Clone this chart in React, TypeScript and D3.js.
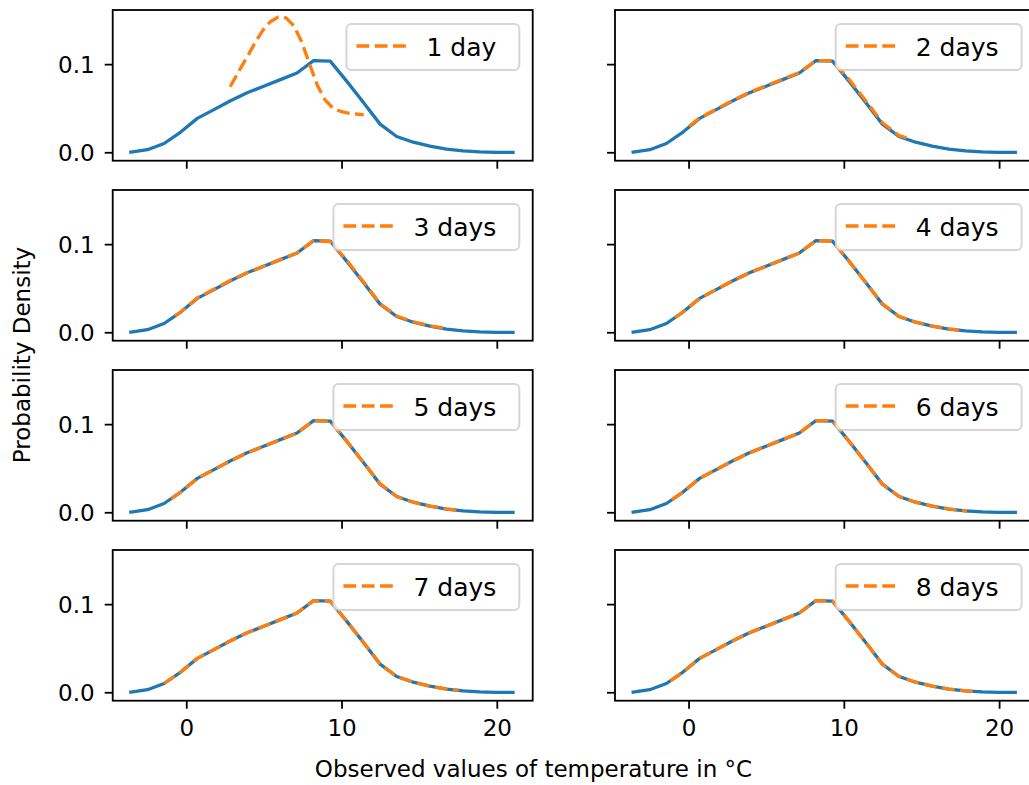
import React from 'react';
import * as d3 from 'd3';

// Observed temperature density (blue), shared by every panel
const obsX = [-3.6, -2.53, -1.46, -0.39, 0.68, 1.75, 2.82, 3.89, 4.96, 6.03, 7.1, 8.17, 9.24, 10.31, 11.38, 12.45, 13.52, 14.59, 15.66, 16.73, 17.8, 18.87, 19.94, 21.01];
const obsY = [0.0008, 0.0035, 0.0105, 0.0235, 0.039, 0.049, 0.059, 0.068, 0.0755, 0.083, 0.0905, 0.1045, 0.104, 0.081, 0.057, 0.0325, 0.0185, 0.012, 0.0075, 0.0042, 0.0022, 0.001, 0.0005, 0.0004];

// Forecast densities (orange dashed), one per lead time
const day1X = [2.8, 3.4, 3.9, 4.4, 4.9, 5.4, 5.9, 6.4, 6.9, 7.4, 7.9, 8.4, 8.9, 9.4, 9.9, 10.4, 10.9, 11.4];
const day1Y = [0.075, 0.094, 0.109, 0.125, 0.139, 0.149, 0.154, 0.153, 0.144, 0.126, 0.101, 0.077, 0.06, 0.051, 0.047, 0.045, 0.044, 0.043];
const day2X = [0.0, 0.68, 1.75, 2.82, 3.89, 4.96, 6.03, 7.1, 8.17, 9.24, 10.31, 11.38, 12.45, 13.52, 14.0];
const day2Y = [0.03, 0.0395, 0.0495, 0.0595, 0.0685, 0.076, 0.0835, 0.091, 0.1045, 0.1045, 0.083, 0.059, 0.034, 0.0195, 0.017];
const day3X = [-0.75, -0.39, 0.68, 1.75, 2.82, 3.89, 4.96, 6.03, 7.1, 8.17, 9.24, 10.31, 11.38, 12.45, 13.52, 14.59, 15.66, 16.5];
const day3Y = [0.019, 0.0235, 0.0395, 0.0495, 0.0595, 0.068, 0.0755, 0.083, 0.0905, 0.1045, 0.1035, 0.082, 0.058, 0.033, 0.019, 0.0125, 0.0078, 0.0055];
const day4X = [-0.9, -0.39, 0.68, 1.75, 2.82, 3.89, 4.96, 6.03, 7.1, 8.17, 9.24, 10.31, 11.38, 12.45, 13.52, 14.59, 15.66, 16.73, 17.4];
const day4Y = [0.017, 0.0235, 0.039, 0.049, 0.059, 0.068, 0.0755, 0.083, 0.0905, 0.1045, 0.104, 0.081, 0.057, 0.033, 0.0185, 0.012, 0.0075, 0.0045, 0.003];
const day5X = [-1.0, -0.39, 0.68, 1.75, 2.82, 3.89, 4.96, 6.03, 7.1, 8.17, 9.24, 10.31, 11.38, 12.45, 13.52, 14.59, 15.66, 16.73, 17.4];
const day5Y = [0.016, 0.0235, 0.039, 0.049, 0.059, 0.068, 0.0755, 0.083, 0.0905, 0.1045, 0.104, 0.081, 0.057, 0.033, 0.0185, 0.012, 0.0075, 0.0045, 0.003];
const day6X = [-1.1, -0.39, 0.68, 1.75, 2.82, 3.89, 4.96, 6.03, 7.1, 8.17, 9.24, 10.31, 11.38, 12.45, 13.52, 14.59, 15.66, 16.73, 17.8, 17.9];
const day6Y = [0.015, 0.0235, 0.039, 0.049, 0.059, 0.068, 0.0755, 0.083, 0.0905, 0.1045, 0.104, 0.081, 0.057, 0.0325, 0.0185, 0.012, 0.0075, 0.0043, 0.0022, 0.002];
const day7X = [-1.46, -0.39, 0.68, 1.75, 2.82, 3.89, 4.96, 6.03, 7.1, 8.17, 9.24, 10.31, 11.38, 12.45, 13.52, 14.59, 15.66, 16.73, 17.5];
const day7Y = [0.0105, 0.0235, 0.039, 0.049, 0.059, 0.068, 0.0755, 0.083, 0.0905, 0.1045, 0.104, 0.081, 0.057, 0.0325, 0.0185, 0.012, 0.0075, 0.0043, 0.0028];
const day8X = [-1.2, -0.39, 0.68, 1.75, 2.82, 3.89, 4.96, 6.03, 7.1, 8.17, 9.24, 10.31, 11.38, 12.45, 13.52, 14.59, 15.66, 16.73, 17.8, 18.5];
const day8Y = [0.0135, 0.0235, 0.039, 0.049, 0.059, 0.068, 0.0755, 0.083, 0.0905, 0.1045, 0.104, 0.081, 0.057, 0.0325, 0.0185, 0.012, 0.0075, 0.0042, 0.0022, 0.0013];

const dayLabels = ['1 day', '2 days', '3 days', '4 days', '5 days', '6 days', '7 days', '8 days'];
const forecastX = [day1X, day2X, day3X, day4X, day5X, day6X, day7X, day8X];
const forecastY = [day1Y, day2Y, day3Y, day4Y, day5Y, day6Y, day7Y, day8Y];

const xTicks = [0, 10, 20];
const yTicks = [0.0, 0.1];
const xLimits = [-4.77, 22.28];
const yLimits = [-0.009, 0.162];

const xLabel = 'Observed values of temperature in °C';
const yLabel = 'Probability Density';

const BLUE = '#1f77b4';
const ORANGE = '#ff7f0e';
const FONT = 'DejaVu Sans, sans-serif';

const W = 1029;
const H = 785;
const colLeft = [112.7, 615];
const axW = 420;
const rowTop = [10, 190, 370, 550];
const axH = 150.7;
const tickLen = 8;
const tickFont = 23;
const legendFont = 25;

const charW: Record<string, number> = {
  '0': 0.636, '1': 0.636, '2': 0.636, '3': 0.636, '4': 0.636, '5': 0.636, '6': 0.636, '7': 0.636, '8': 0.636,
  ' ': 0.318, d: 0.635, a: 0.613, y: 0.592, s: 0.521,
};
const textWidth = (s: string, size: number) =>
  s.split('').reduce((acc, c) => acc + (charW[c] ?? 0.6), 0) * size;

function Panel({ idx }: { idx: number }) {
  const col = idx % 2;
  const row = Math.floor(idx / 2);
  const x0 = colLeft[col];
  const y0 = rowTop[row];
  const xs = d3.scaleLinear().domain(xLimits).range([x0, x0 + axW]);
  const ys = d3.scaleLinear().domain(yLimits).range([y0 + axH, y0]);
  const line = d3
    .line<[number, number]>()
    .x((d) => xs(d[0]))
    .y((d) => ys(d[1]));
  const obs: [number, number][] = obsX.map((x, i) => [x, obsY[i]]);
  const fc: [number, number][] = forecastX[idx].map((x, i) => [x, forecastY[idx][i]]);
  const label = dayLabels[idx];
  const tw = textWidth(label, legendFont);
  const boxRight = x0 + axW - 13.4;
  const boxW = 80 + tw + 23;
  const boxL = boxRight - boxW;
  const boxT = y0 + 14;
  const boxH = 46;
  const cy = boxT + boxH / 2;
  const clipId = `clip-${idx}`;
  const isBottom = row === 3;
  return (
    <g>
      <defs>
        <clipPath id={clipId}>
          <rect x={x0} y={y0} width={axW} height={axH} />
        </clipPath>
      </defs>
      <g clipPath={`url(#${clipId})`}>
        <path d={line(obs) || ''} fill="none" stroke={BLUE} strokeWidth={3.3} strokeLinejoin="round" strokeLinecap="square" />
        <path d={line(fc) || ''} fill="none" stroke={ORANGE} strokeWidth={3.3} strokeLinejoin="round" strokeDasharray="12.8 5.5" />
      </g>
      <rect x={x0} y={y0} width={axW} height={axH} fill="none" stroke="#000" strokeWidth={1.8} />
      {xTicks.map((t) => (
        <g key={`xt${t}`}>
          <line x1={xs(t)} x2={xs(t)} y1={y0 + axH} y2={y0 + axH + tickLen} stroke="#000" strokeWidth={1.8} />
          {isBottom && (
            <text x={xs(t)} y={y0 + axH + 35} textAnchor="middle" fontSize={tickFont} fontFamily={FONT} fill="#000">
              {t}
            </text>
          )}
        </g>
      ))}
      {yTicks.map((t) => (
        <g key={`yt${t}`}>
          <line x1={x0 - tickLen} x2={x0} y1={ys(t)} y2={ys(t)} stroke="#000" strokeWidth={1.8} />
          {col === 0 && (
            <text x={x0 - 18} y={ys(t) + 8.3} textAnchor="end" fontSize={tickFont} fontFamily={FONT} fill="#000">
              {t.toFixed(1)}
            </text>
          )}
        </g>
      ))}
      <rect x={boxL} y={boxT} width={boxW} height={boxH} rx={5} ry={5} fill="#fff" fillOpacity={0.8} stroke="#cccccc" strokeOpacity={0.8} strokeWidth={2} />
      <line x1={boxL + 10} x2={boxL + 60} y1={cy - 1} y2={cy - 1} stroke={ORANGE} strokeWidth={3.3} strokeDasharray="12.8 5.5" />
      <text x={boxL + 80} y={cy + 8.5} fontSize={legendFont} fontFamily={FONT} fill="#000">
        {label}
      </text>
    </g>
  );
}

export default function App() {
  return (
    <svg width={W} height={H} style={{ position: 'absolute', left: 0, top: 0, background: '#fff' }}>
      <rect x={0} y={0} width={W} height={H} fill="#fff" />
      {dayLabels.map((_, i) => (
        <Panel key={i} idx={i} />
      ))}
      <text x={533.5} y={777} textAnchor="middle" fontSize={tickFont} fontFamily={FONT} fill="#000">
        {xLabel}
      </text>
      <text
        transform={`translate(30, 355) rotate(-90)`}
        textAnchor="middle"
        fontSize={tickFont}
        fontFamily={FONT}
        fill="#000"
      >
        {yLabel}
      </text>
    </svg>
  );
}
